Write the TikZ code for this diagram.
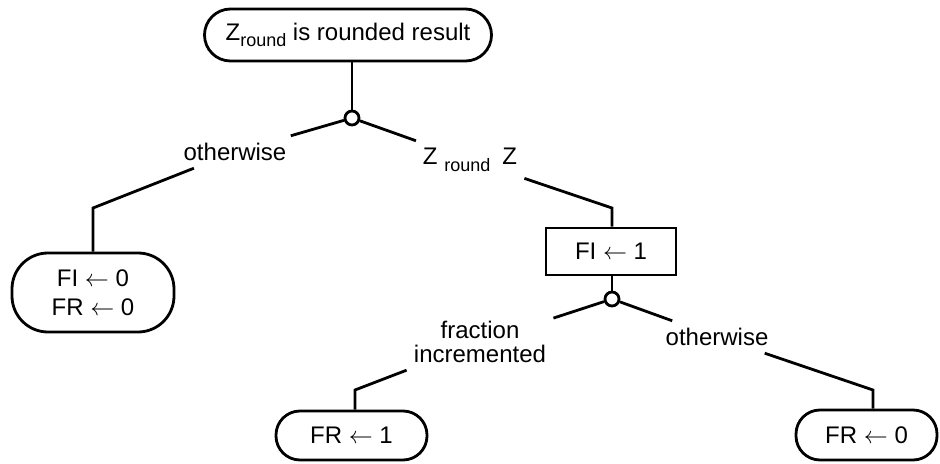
\documentclass[tikz,border=0pt]{standalone}
\usepackage{amsmath}
\usepackage{fontspec}
\setmainfont{Liberation Sans}
\usepackage{tikz}

\begin{document}
\begin{tikzpicture}[x=0.5pt, y=-0.5pt, line width=1.4pt,
  every node/.style={font=\fontsize{12}{14.5}\selectfont},
  term/.style={draw, rounded corners=12pt, inner sep=0pt, align=center},
  act/.style={draw, inner sep=0pt},
  junc/.style={draw, circle, minimum size=7pt, inner sep=0pt},
  lbl/.style={inner sep=3pt, align=center}]
  \useasboundingbox (0,0) rectangle (940,464);
  % terminals and actions
  \node[term, rounded corners=13pt, minimum width=143.5pt, minimum height=26pt] (top) at (348,35)
    {Z\raisebox{-0.45ex}{\fontsize{9}{9}\selectfont round} is rounded result};
  \node[term, rounded corners=18pt, minimum width=81pt, minimum height=39.5pt] (left) at (93,292.5)
    {FI $\leftarrow$ 0\\FR $\leftarrow$ 0};
  \node[act, minimum width=65pt, minimum height=23.5pt] (fi) at (611,251.5) {FI $\leftarrow$ 1};
  \node[term, minimum width=75.5pt, minimum height=24.5pt] (fr1) at (351.5,435.5) {FR $\leftarrow$ 1};
  \node[term, minimum width=70.5pt, minimum height=25pt] (fr0) at (866.5,435) {FR $\leftarrow$ 0};
  % junctions
  \node[junc] (c1) at (352,118) {};
  \node[junc] (c2) at (612,299) {};
  % branch labels
  \node[lbl] (ow1) at (235,152) {otherwise};
  \node[lbl] (zr) at (470,160) {Z \raisebox{-0.55ex}{\fontsize{9}{9}\selectfont round}\enspace Z};
  \node[lbl, font=\fontsize{12}{12}\selectfont] (inc) at (480,342) {fraction\\incremented};
  \node[lbl] (ow2) at (717,337) {otherwise};
  % bends
  \coordinate (b1) at (93,208);
  \coordinate (b2) at (612,208);
  \coordinate (b3) at (355,390);
  \coordinate (b4) at (873,390);
  % connectors
  \draw (top.south -| c1) -- (c1);
  \draw (c1) -- (ow1) -- (b1) -- (left);
  \draw (c1) -- (zr) -- (b2) -- (fi.north -| b2);
  \draw (fi.south -| c2) -- (c2);
  \draw (c2) -- (inc) -- (b3) -- (fr1.north -| b3);
  \draw (c2) -- (ow2) -- (b4) -- (fr0.north -| b4);
\end{tikzpicture}
\end{document}
